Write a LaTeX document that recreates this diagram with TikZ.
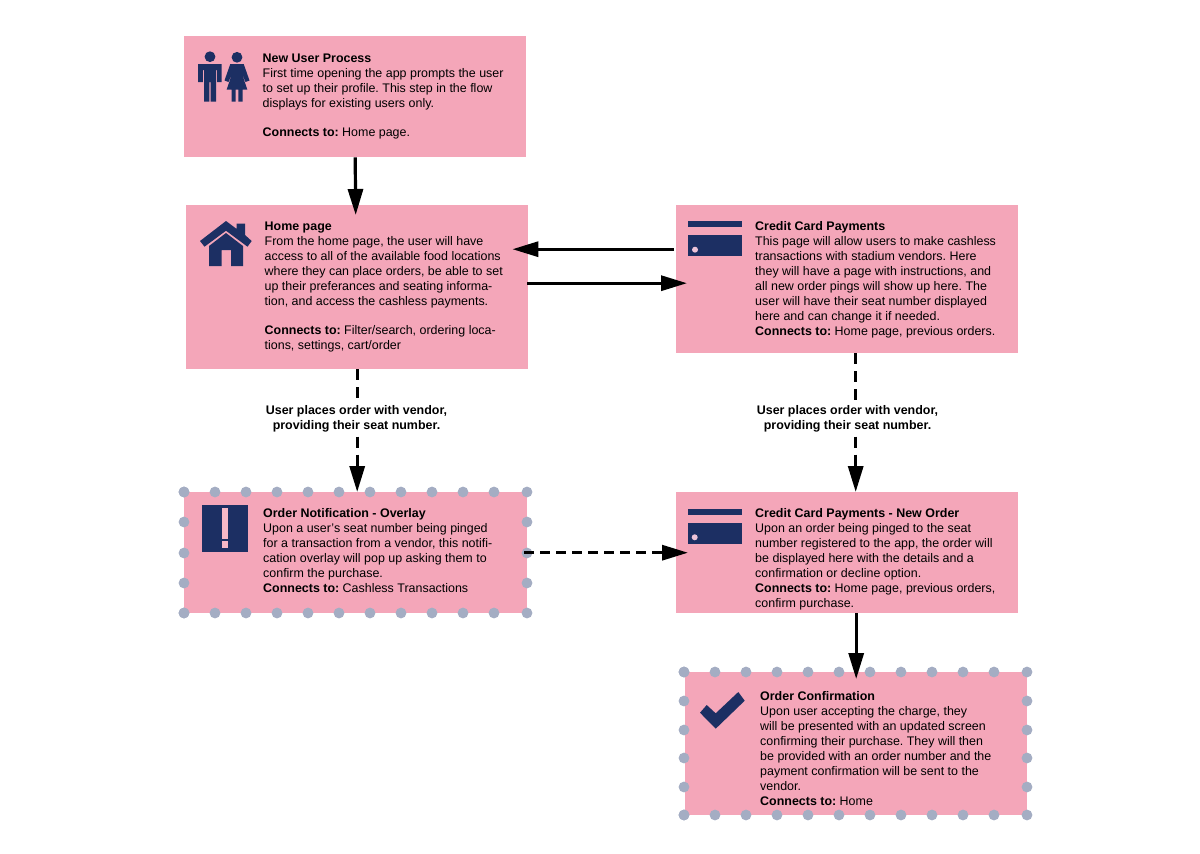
\documentclass[tikz,border=0pt]{standalone}
\usepackage{fontspec}
\setmainfont{Liberation Sans}
\usetikzlibrary{arrows.meta}
\definecolor{boxpink}{HTML}{F4A6B9}
\definecolor{navy}{HTML}{1C2F63}
\definecolor{dotgrey}{HTML}{A4ADC3}
\definecolor{lightpink}{HTML}{EDC3D8}
\tikzset{
  x=1pt,y=-1pt,
  flowbox/.style={draw=none,fill=boxpink,inner sep=0pt,anchor=north west},
  body/.style={anchor=north west,inner sep=0pt,align=left,font=\fontsize{12.45}{14.95}\selectfont\frenchspacing},
  note/.style={inner sep=0pt,align=center,minimum height=36pt,font=\fontsize{12.45}{15}\selectfont\bfseries\frenchspacing},
  tipped/.style={line width=3.2pt,-{Triangle[length=26pt,width=15pt]}},
  plain/.style={line width=3.2pt},
  vdash/.style={dash pattern=on 11pt off 7pt},
  hdash/.style={dash pattern=on 10pt off 6pt},
  dotc/.style={fill=dotgrey},
  icon/.style={fill=navy},
}
\newcommand{\boxat}[5]{\node[flowbox,minimum width=#4pt,minimum height=#5pt] (#1) at (#2,#3) {};}
\begin{document}
\begin{tikzpicture}
\useasboundingbox (0,0) rectangle (1200,854);
\fill[white] (0,0) rectangle (1200,854);
% boxes
\boxat{A}{184}{36}{342}{121}
\boxat{B}{186}{205}{342}{164}
\boxat{C}{676}{205}{342}{148}
\boxat{D}{184}{492}{343}{121}
\boxat{E}{676}{492}{342}{121}
\boxat{F}{685}{672}{342}{143}
% dotted borders
\foreach \i in {0,...,10}{
  \fill[dotc] ({184+31*\i},492) circle (5.4);
  \fill[dotc] ({184+31*\i},613) circle (5.4);}
\foreach \yy in {492,522,553,583,613}{
  \fill[dotc] (184,\yy) circle (5.4);
  \fill[dotc] (527,\yy) circle (5.4);}
\foreach \i in {0,...,10}{
  \fill[dotc] ({684+31*\i},672) circle (5.4);
  \fill[dotc] ({684+31*\i},815) circle (5.4);}
\foreach \yy in {672,701,730,758,787,815}{
  \fill[dotc] (684,\yy) circle (5.4);
  \fill[dotc] (1027,\yy) circle (5.4);}
% people icon
\fill[icon] (210,56.7) circle (5.4);
\fill[icon] (198,64) -- (221.5,64) -- (221.5,82) -- (217.2,82) -- (217.2,70) -- (216,70) -- (216,101.7) -- (210.7,101.7) -- (210.7,82) -- (209.3,82) -- (209.3,101.7) -- (204,101.7) -- (204,70) -- (202.8,70) -- (202.8,82) -- (198,82) -- cycle;
\fill[icon] (237,57.3) circle (5.4);
\fill[icon] (230.3,64) -- (243.7,64) -- (249.5,80.5) -- (245.5,82) -- (241,71) -- (247.3,89.5) -- (242.5,89.5) -- (242.5,101.7) -- (238.4,101.7) -- (238.4,89.5) -- (235.6,89.5) -- (235.6,101.7) -- (231.5,101.7) -- (231.5,89.5) -- (226.7,89.5) -- (233,71) -- (228.5,82) -- (224.5,80.5) -- cycle;
% house icon
\fill[icon] (226,221) -- (236.7,229) -- (236.7,223.5) -- (245,223.5) -- (245,235) -- (251.7,241) -- (247.5,246.7) -- (226,230.7) -- (204.5,246.7) -- (200,241) -- cycle;
\fill[icon] (226,233) -- (243,246) -- (243,266) -- (231,266) -- (231,250) -- (221.5,250) -- (221.5,266) -- (209,266) -- (209,246) -- cycle;
% card icons
\fill[icon] (688,221) rectangle (741.5,227);
\fill[icon] (688,235) rectangle (741.5,256);
\fill[lightpink] (695,249.7) circle (3);
\fill[icon] (688,509) rectangle (741.5,515);
\fill[icon] (688,523) rectangle (741.5,543.7);
\fill[lightpink] (694.7,537.3) circle (3);
% alert icon
\fill[icon] (201.7,505.3) rectangle (248.3,552.3);
\fill[boxpink!80!white] (221.7,508) rectangle (228.3,539);
\fill[boxpink!80!white] (221.7,541) rectangle (228.3,548.3);
% check icon
\fill[icon] (700,712.7) -- (715.7,728.7) -- (744.7,700.7) -- (738.3,692) -- (715.7,713.3) -- (706.7,705) -- cycle;
% texts
\node[body] (tA) at (262.5,53.5) {\textbf{New User Process}\\First time opening the app prompts the user\\to set up their profile. This step in the flow\\displays for existing users only.\\[14.5pt]\textbf{Connects to:} Home page.};
\node[body] (tB) at (264.5,221.5) {\textbf{Home page}\\From the home page, the user will have\\access to all of the available food locations\\where they can place orders, be able to set\\up their preferances and seating informa-\\tion, and access the cashless payments.\\[14.95pt]\textbf{Connects to:} Filter/search, ordering loca-\\tions, settings, cart/order};
\node[body] (tC) at (755,221.5) {\textbf{Credit Card Payments}\\This page will allow users to make cashless\\transactions with stadium vendors. Here\\they will have a page with instructions, and\\all new order pings will show up here. The\\user will have their seat number displayed\\here and can change it if needed.\\\textbf{Connects to:} Home page, previous orders.};
\node[body] (tD) at (263,508.5) {\textbf{Order Notification - Overlay}\\Upon a user’s seat number being pinged\\for a transaction from a vendor, this notifi-\\cation overlay will pop up asking them to\\confirm the purchase.\\\textbf{Connects to:} Cashless Transactions};
\node[body] (tE) at (755,508.5) {\textbf{Credit Card Payments - New Order}\\Upon an order being pinged to the seat\\number registered to the app, the order will\\be displayed here with the details and a\\confirmation or decline option.\\\textbf{Connects to:} Home page, previous orders,\\confirm purchase.};
\node[body] (tF) at (760,691.5) {\textbf{Order Confirmation}\\Upon user accepting the charge, they\\will be presented with an updated screen\\confirming their purchase. They will then\\be provided with an order number and the\\payment confirmation will be sent to the\\vendor.\\\textbf{Connects to:} Home};
% connector labels
\node[note] (nB) at (356.5,418.5) {User places order with vendor,\\providing their seat number.};
\node[note] (nC) at (847.5,418.5) {User places order with vendor,\\providing their seat number.};
% connectors
\coordinate (cx) at ([xshift=8.5pt]C.south);
\coordinate (u) at ([yshift=30pt]C.west);
\coordinate (v) at ([yshift=4pt]B.east);
\draw[tipped] (A.south) -- ([xshift=-1.5pt,yshift=-10pt]B.north);
\draw[tipped] ([xshift=-2pt]u) -- ([xshift=-16pt]B.east |- u);
\draw[tipped] ([xshift=-1pt]v) -- ([xshift=11pt]C.west |- v);
\draw[plain,vdash] (B.south) -- (nB.north -| B.south);
\draw[tipped,vdash] (nB.south -| B.south) -- (D.north -| B.south);
\draw[plain,vdash] (cx) -- (nC.north -| cx);
\draw[tipped,vdash] (nC.south -| cx) -- (E.north -| cx);
\draw[tipped,hdash] ([xshift=-3pt]D.east) -- ([xshift=12pt]E.west |- D.east);
\draw[tipped] (E.south -| F.north) -- ([yshift=-7pt]F.north);
\end{tikzpicture}
\end{document}
